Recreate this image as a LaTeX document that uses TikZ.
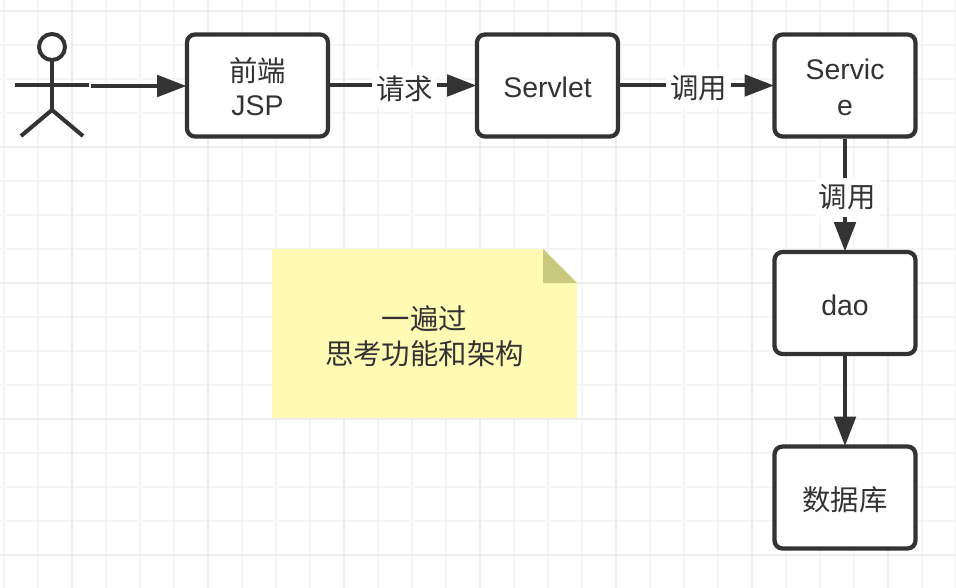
\documentclass[tikz,border=0pt]{standalone}
\usepackage{fontspec}
\setmainfont{Liberation Sans}
\newfontfamily\cjk{Noto Sans CJK SC}
\usetikzlibrary{arrows.meta}
\definecolor{inkgray}{HTML}{333333}
\definecolor{notefill}{HTML}{FFFAB4}
\definecolor{foldfill}{HTML}{C9C981}
\definecolor{gridminor}{HTML}{F5F5F5}
\definecolor{gridmajor}{HTML}{EEEEEE}
\newcommand{\dropline}[1]{\raisebox{-1.5pt}[\height][\depth]{#1}}
\tikzset{
    flowbox/.style={draw=inkgray,line width=3.2pt,rounded corners=6pt,fill=white,text=inkgray,minimum width=105.75pt,minimum height=76.5pt,inner sep=0pt,align=center,font=\fontsize{21.3}{26.5}\selectfont},
    flowline/.style={draw=inkgray,line width=3pt,shorten >=-1.2pt,-{Triangle[length=22pt,width=16pt]}},
    edgelabel/.style={fill=white,text=inkgray,inner xsep=3pt,inner ysep=5pt,xshift=1.7pt,yshift=-2.2pt,font=\fontsize{21.3}{26.5}\selectfont\cjk},
    stickman/.style={draw=inkgray,line width=3pt}
}
\begin{document}
\begin{tikzpicture}[x=0.75pt,y=-0.75pt]
            \useasboundingbox (0,0) rectangle (956,588);
            \foreach \gx in {4,38,...,956} \draw[gridminor,line width=1.5pt] (\gx,0) -- (\gx,588);
            \foreach \gy in {11,45,...,588} \draw[gridminor,line width=1.5pt] (0,\gy) -- (956,\gy);
            \foreach \gx in {72,208,...,956} \draw[gridmajor,line width=2pt] (\gx,0) -- (\gx,588);
            \foreach \gy in {11,147,...,588} \draw[gridmajor,line width=2pt] (0,\gy) -- (956,\gy);
            \draw[stickman,fill=white] (52,47) circle(13);
            \draw[stickman] (52,60) -- (52,110);
            \draw[stickman] (15,85) -- (89,85);
            \draw[stickman] (21,136) -- (52,110) -- (83,136);
            \coordinate (actorhand) at (91,86);
            \node[flowbox] (jsp) at (257.5,85.5) {\dropline{\cjk 前端}\\JSP};
            \node[flowbox] (servlet) at (547.5,85.5) {\dropline{Servlet}};
            \node[flowbox] (service) at (845,85.5) {\dropline{Servic}\\\dropline{e}};
            \node[flowbox] (dao) at (845,303) {\dropline{dao}};
            \node[flowbox] (db) at (845,497.5) {\dropline{\cjk 数据库}};
            \draw[flowline] (actorhand) -- (jsp.west |- actorhand);
            \draw[flowline] (jsp) -- (servlet) node[midway,edgelabel] (ask) {请求};
            \draw[flowline] (servlet) -- (service) node[midway,edgelabel] (callservice) {调用};
            \draw[flowline] (service) -- (dao) node[midway,edgelabel] (calldao) {调用};
            \draw[flowline] (dao) -- (db);
            \fill[notefill] (272,249) -- (543,249) -- (577,283) -- (577,418) -- (272,418) -- cycle;
            \fill[foldfill] (543,249) -- (577,283) -- (543,283) -- cycle;
            \node[text=inkgray,align=center,font=\fontsize{21.3}{26.5}\selectfont\cjk] (note) at (424.5,336) {一遍过\\思考功能和架构};
        \end{tikzpicture}
\end{document}
